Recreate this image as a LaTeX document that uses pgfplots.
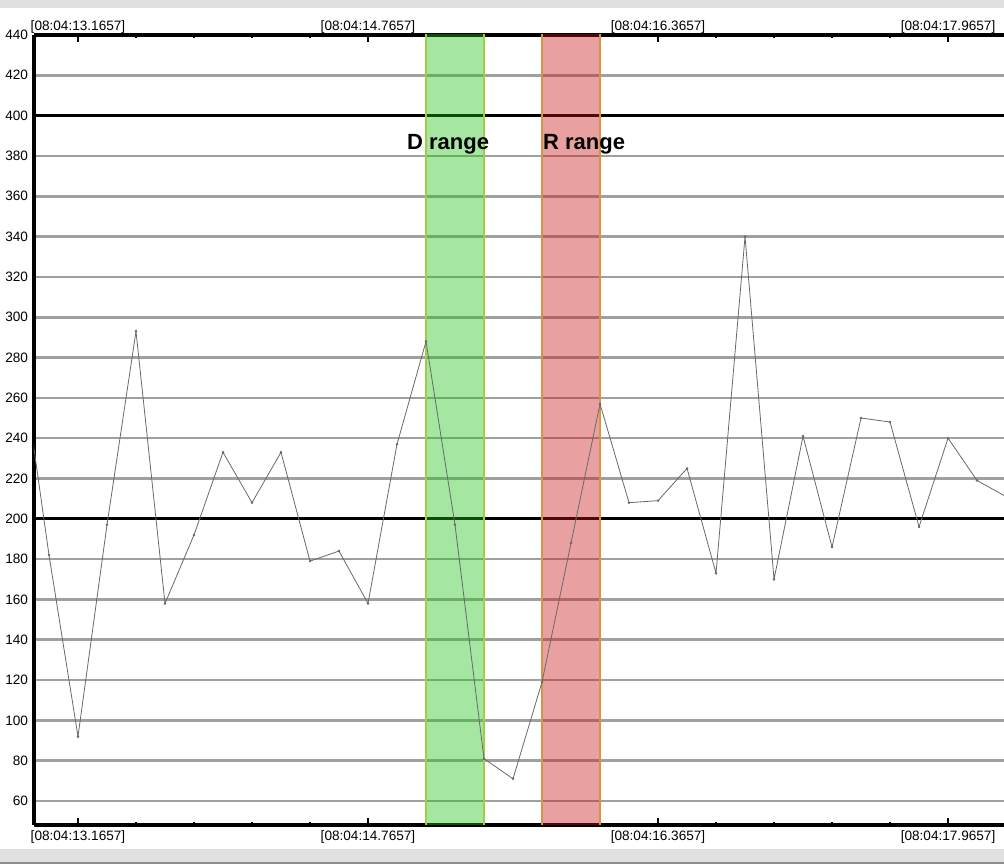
\documentclass[border=0pt]{standalone}
\usepackage{fontspec}
\setmainfont{Liberation Sans}
\usepackage{pgfplots}
\pgfplotsset{compat=1.18}
\definecolor{gridgray}{RGB}{160,160,160}
\definecolor{linegray}{RGB}{105,105,105}
\definecolor{bandgreen}{RGB}{30,193,18}
\definecolor{bandred}{RGB}{198,18,18}
\definecolor{edgegreen}{RGB}{160,205,70}
\definecolor{edgered}{RGB}{210,150,70}
\definecolor{barsgray}{RGB}{224,224,224}
\begin{document}
\begin{tikzpicture}
\useasboundingbox (-25.5pt,-29.25pt) rectangle (727.5pt,618.75pt);
\fill[barsgray] (-25.5pt,612.75pt) rectangle (727.5pt,618.75pt);
\fill[barsgray] (-25.5pt,-29.25pt) rectangle (727.5pt,-18pt);
\fill[black!45] (-25.5pt,-29.25pt) rectangle (727.5pt,-28pt);
\pgfplotsset{
  common/.style={
    scale only axis, width=727.5pt, height=592.5pt,
    at={(0pt,0pt)}, anchor=south west,
    xmin=-1.517, xmax=31.93, ymin=48.1, ymax=440,
    xtick={0,10,20,30},
    minor x tick num=4,
    xticklabels={{[08:04:13.1657]},{[08:04:14.7657]},{[08:04:16.3657]},{[08:04:17.9657]}},
    tick align=inside,
    major tick length=5pt, minor tick length=2.5pt,
    x tick style={black, line width=1.5pt},
    minor x tick style={black, line width=1.5pt},
    tick label style={font=\fontsize{10.2}{12}\selectfont},
    /pgf/number format/assume math mode=true,
    x axis line style={-, black, line width=2.3pt},
    y axis line style={-, black, line width=2.3pt},
  }
}
\begin{axis}[common,
  axis x line*=top, axis y line=none,
  xticklabel style={yshift=-2pt},
]
\end{axis}
\begin{axis}[common,
  axis x line*=bottom, axis y line*=left,
  ytick={60,80,...,420},
  ytick style={draw=none},
  ymajorgrids, grid style={gridgray, line width=2pt},
  extra y ticks={200,400,440}, extra y tick labels={{},{},440},
  extra y tick style={grid style={black, line width=2.3pt}, major tick length=0pt},
  yticklabel style={xshift=-1pt},
  xticklabel style={yshift=-1pt},
  clip=true,
]
\addplot[fill=bandgreen, fill opacity=0.4, draw=edgegreen, line width=0.8pt] coordinates {(12,0) (14,0) (14,500) (12,500)} -- cycle;
\addplot[fill=bandred, fill opacity=0.4, draw=edgered, line width=0.8pt] coordinates {(16,0) (18,0) (18,500) (16,500)} -- cycle;
\addplot[linegray, line width=0.6pt, mark=*, mark size=0.6pt, mark options={fill=linegray}] coordinates {
(-2,284) (-1,182) (0,92) (1,197) (2,293) (3,158) (4,192) (5,233) (6,208) (7,233)
(8,179) (9,184) (10,158) (11,237) (12,288) (13,197) (14,81) (15,71) (16,119) (17,188)
(18,257) (19,208) (20,209) (21,225) (22,173) (23,340) (24,170) (25,241) (26,186) (27,250)
(28,248) (29,196) (30,240) (31,219) (32,211)
};
\node[anchor=west, inner sep=0pt, font=\bfseries\fontsize{16.5}{18}\selectfont] at (axis cs:11.34,386) {D range};
\node[anchor=west, inner sep=0pt, font=\bfseries\fontsize{16.5}{18}\selectfont] at (axis cs:16.03,386) {R range};
\end{axis}
\end{tikzpicture}
\end{document}
